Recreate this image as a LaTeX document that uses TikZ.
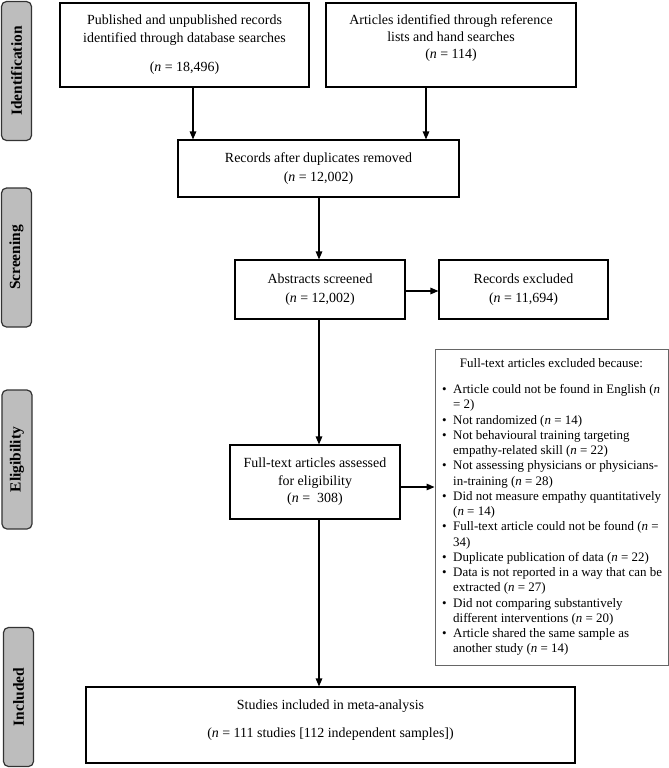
\documentclass[tikz,border=0pt]{standalone}
\usepackage{fontspec}
\usepackage{graphicx}
\setmainfont{Liberation Serif}
\usetikzlibrary{arrows.meta}
\newcommand\bul{\makebox[11bp][l]{•}}
\newcommand\ind{\hspace*{11bp}}
\newcommand\nn{\textit{n}}
\begin{document}
\begin{tikzpicture}[x=1bp,y=-1bp,
  box/.style={draw=black, line width=1.1bp, inner sep=0pt, align=center,
    font=\fontsize{14}{18}\selectfont},
  lab/.style={draw=black!80, fill=black!26, line width=1.2bp, rounded corners=5bp,
    minimum width=30bp, minimum height=139bp, inner sep=0pt,
    font=\fontsize{15.5}{18}\selectfont\bfseries},
  arr/.style={-{Triangle[length=8bp,width=6.5bp]}, line width=1.2bp},
  small/.style={inner sep=0pt, font=\fontsize{13}{15.3}\selectfont}]
\useasboundingbox (0,0) rectangle (669,768);
% stage labels
\node[lab] (lid) at (16.5,71) {\rotatebox{90}{Identification}};
\node[lab] (lsc) at (16.5,257.5) {\rotatebox{90}{Screening}};
\node[lab] (lel) at (17,459.5) {\rotatebox{90}{Eligibility}};
\node[lab] (lin) at (18.5,697) {\rotatebox{90}{Included}};
% boxes
\node[box, minimum width=249bp, minimum height=84bp] (b1) at (184.5,45)
  {Published and unpublished records\\identified through database searches\\[11bp](\nn\ = 18,496)};
\node[box, minimum width=250bp, minimum height=84bp, font=\fontsize{14}{17}\selectfont] (b2) at (451,45)
  {Articles identified through reference\\lists and hand searches\\(\nn\ = 114)\\\mbox{}};
\node[box, minimum width=281bp, minimum height=57bp, font=\fontsize{14}{19}\selectfont] (b3) at (318.5,168.5)
  {Records after duplicates removed\\(\nn\ = 12,002)};
\node[box, minimum width=170bp, minimum height=59bp, font=\fontsize{14}{19}\selectfont] (b4) at (320,289.5)
  {Abstracts screened\\(\nn\ = 12,002)};
\node[box, minimum width=169bp, minimum height=59bp, font=\fontsize{14}{19}\selectfont] (b5) at (523.5,289.5)
  {Records excluded\\(\nn\ = 11,694)};
\node[box, minimum width=170bp, minimum height=74bp, font=\fontsize{14}{17.5}\selectfont] (b6) at (315,482)
  {Full-text articles assessed\\for eligibility\\(\nn\ =\ \ 308)};
\node[draw=black!60, line width=0.9bp, minimum width=233bp, minimum height=316bp, inner sep=0pt] (b7) at (551.5,507) {};
\node[small] (h7) at (551.5,363) {Full-text articles excluded because:};
\node[small, anchor=west, align=left] (l7) at (442,520) {%
\bul Article could not be found in English (\nn\\
\ind = 2)\\
\bul Not randomized (\nn\ = 14)\\
\bul Not behavioural training targeting\\
\ind empathy-related skill (\nn\ = 22)\\
\bul Not assessing physicians or physicians-\\
\ind in-training (\nn\ = 28)\\
\bul Did not measure empathy quantitatively\\
\ind (\nn\ = 14)\\
\bul Full-text article could not be found (\nn\ =\\
\ind 34)\\
\bul Duplicate publication of data (\nn\ = 22)\\
\bul Data is not reported in a way that can be\\
\ind extracted (\nn\ = 27)\\
\bul Did not comparing substantively\\
\ind different interventions (\nn\ = 20)\\
\bul Article shared the same sample as\\
\ind another study (\nn\ = 14)};
\node[box, minimum width=489bp, minimum height=76bp] (b8) at (330.5,725)
  {Studies included in meta-analysis\\[10bp](\nn\ = 111 studies [112 independent samples])\\[-5bp]\mbox{}};
% connectors
\draw[arr] ([xshift=8.5bp]b1.south) -- ([xshift=8.5bp]b1.south |- b3.north);
\draw[arr] ([xshift=-25bp]b2.south) -- ([xshift=-25bp]b2.south |- b3.north);
\draw[arr] ([xshift=-1bp]b4.north |- b3.south) -- ([xshift=-1bp]b4.north);
\draw[arr] ([yshift=-1.5bp]b4.east) -- ([yshift=-1.5bp]b5.west);
\draw[arr] ([xshift=-1bp]b4.south) -- ([xshift=-1bp]b4.south |- b6.north);
\draw[arr] ([yshift=-5bp]b6.east) -- ([yshift=-5bp]b6.east -| b7.west);
\draw[arr] ([xshift=-1bp]b4.south |- b6.south) -- ([xshift=-1bp]b4.south |- b8.north);
\end{tikzpicture}
\end{document}
